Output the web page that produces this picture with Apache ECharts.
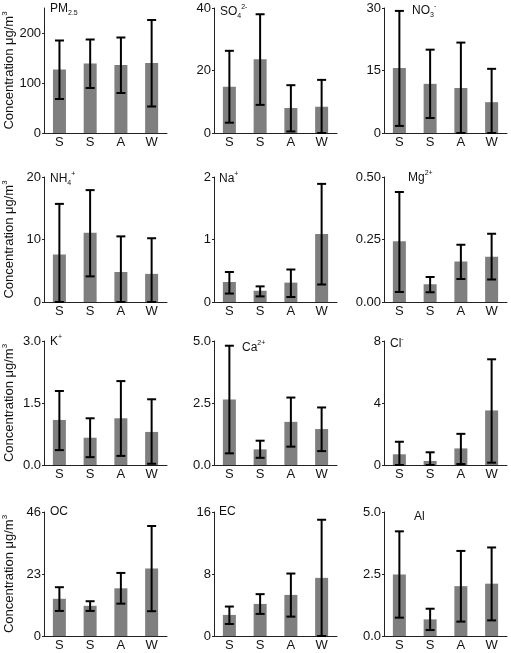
<!DOCTYPE html>
<html>
<head>
<meta charset="utf-8">
<script src="https://cdn.jsdelivr.net/npm/echarts@6/dist/echarts.min.js"></script>
<style>
  html, body { margin: 0; padding: 0; background: #fff; }
  #chart { width: 511px; height: 653px; }
</style>
</head>
<body>
<div id="chart"></div>
<script>
// seasons on x axis
const cats = ["S", "S", "A", "W"];

// means and error bar ends
const pm25 = [127, 139, 136, 140], pm25Lo = [68, 90, 80, 53], pm25Hi = [185, 187, 191, 226];
const so4 = [14.8, 23.6, 8.0, 8.4], so4Lo = [3.3, 9.0, 0.5, 0], so4Hi = [26.3, 38, 15.3, 17];
const no3 = [15.6, 11.8, 10.8, 7.4], no3Lo = [1.7, 3.6, 0, 0], no3Hi = [29.3, 20, 21.7, 15.4];
const nh4 = [7.6, 11.1, 4.8, 4.5], nh4Lo = [0, 4.1, 0, 0], nh4Hi = [15.7, 17.9, 10.5, 10.2];
const na = [0.32, 0.18, 0.31, 1.09], naLo = [0.135, 0.09, 0.08, 0.28], naHi = [0.48, 0.25, 0.52, 1.89];
const mg = [0.243, 0.071, 0.162, 0.181], mgLo = [0.04, 0.039, 0.092, 0.09], mgHi = [0.44, 0.10, 0.229, 0.273];
const k = [1.09, 0.66, 1.13, 0.80], kLo = [0.36, 0.19, 0.22, 0.03], kHi = [1.79, 1.13, 2.03, 1.59];
const ca = [2.64, 0.63, 1.74, 1.45], caLo = [0.47, 0.29, 0.74, 0.56], caHi = [4.81, 0.98, 2.72, 2.32];
const cl = [0.69, 0.26, 1.07, 3.52], clLo = [0, 0, 0.06, 0.15], clHi = [1.5, 0.82, 2.01, 6.82];
const oc = [13.8, 11.2, 17.7, 25.0], ocLo = [9.3, 9.3, 12.0, 9.2], ocHi = [18.1, 12.9, 23.4, 40.8];
const ec = [2.72, 4.14, 5.3, 7.5], ecLo = [1.55, 2.85, 2.5, 0], ecHi = [3.8, 5.4, 8.06, 15.0];
const al = [2.48, 0.67, 2.01, 2.11], alLo = [0.74, 0.24, 0.58, 0.63], alHi = [4.22, 1.1, 3.43, 3.57];

// y axis ranges
const yMax = [250, 40, 30, 20, 2, 0.5, 3.0, 5.0, 8, 46, 16, 5.0];
const yStep = [100, 20, 15, 10, 1, 0.25, 1.5, 2.5, 4, 23, 8, 2.5];
const yDec = [0, 0, 0, 0, 0, 2, 1, 1, 0, 0, 0, 1];

const panels = [
  { mean: pm25, lo: pm25Lo, hi: pm25Hi, name: "{a|PM}{sub|2.5}", tx: 50, ty: 1 },
  { mean: so4, lo: so4Lo, hi: so4Hi, name: "{a|SO}{sub|4}{sup|2-}", tx: 220, ty: 4 },
  { mean: no3, lo: no3Lo, hi: no3Hi, name: "{a|NO}{sub|3}{sup|-}", tx: 412, ty: 3 },
  { mean: nh4, lo: nh4Lo, hi: nh4Hi, name: "{a|NH}{sub|4}{sup|+}", tx: 50, ty: 171 },
  { mean: na, lo: naLo, hi: naHi, name: "{a|Na}{sup|+}", tx: 219, ty: 171 },
  { mean: mg, lo: mgLo, hi: mgHi, name: "{a|Mg}{sup|2+}", tx: 408, ty: 170 },
  { mean: k, lo: kLo, hi: kHi, name: "{a|K}{sup|+}", tx: 50, ty: 334 },
  { mean: ca, lo: caLo, hi: caHi, name: "{a|Ca}{sup|2+}", tx: 242, ty: 340 },
  { mean: cl, lo: clLo, hi: clHi, name: "{a|Cl}{sup|-}", tx: 390, ty: 336 },
  { mean: oc, lo: ocLo, hi: ocHi, name: "{a|OC}", tx: 50, ty: 504 },
  { mean: ec, lo: ecLo, hi: ecHi, name: "{a|EC}", tx: 219, ty: 504 },
  { mean: al, lo: alLo, hi: alHi, name: "{a|Al}", tx: 414, ty: 509 }
];

const colLeft = [44, 214, 384];
const rowTop = [8, 177, 341, 512];
const rowBottom = [133, 302, 465, 636];
const font = "Liberation Sans, Arial, sans-serif";

const richText = {
  a: { fontSize: 12, fontFamily: font, fontWeight: "normal", color: "#111", lineHeight: 16 },
  sub: { fontSize: 7, fontFamily: font, fontWeight: "normal", color: "#111", lineHeight: 8, verticalAlign: "bottom" },
  sup: { fontSize: 7, fontFamily: font, fontWeight: "normal", color: "#111", lineHeight: 8, verticalAlign: "top" }
};

let grid = [], xAxis = [], yAxis = [], series = [], title = [];

panels.forEach((p, i) => {
  let col = i % 3, row = Math.floor(i / 3);
  grid.push({
    left: colLeft[col],
    top: rowTop[row],
    width: 123,
    height: rowBottom[row] - rowTop[row]
  });
  xAxis.push({
    type: "category",
    gridIndex: i,
    data: cats,
    axisLine: { lineStyle: { color: "#222", width: 1 } },
    axisTick: { show: false },
    axisLabel: { color: "#111", fontSize: 13, fontFamily: font, margin: 3 }
  });
  yAxis.push({
    type: "value",
    gridIndex: i,
    min: 0,
    max: yMax[i],
    interval: yStep[i],
    splitLine: { show: false },
    axisLine: { show: true, lineStyle: { color: "#222", width: 1 } },
    axisTick: { show: true, length: 2, lineStyle: { color: "#222" } },
    axisLabel: {
      color: "#111",
      fontSize: 13,
      fontFamily: font,
      margin: 3,
      showMaxLabel: i !== 0,
      formatter: (v) => v.toFixed(yDec[i])
    },
    name: col === 0 ? "{a|Concentration μg/m}{sup|3}" : "",
    nameLocation: "middle",
    nameRotate: 90,
    nameGap: 27,
    nameTextStyle: {
      rich: {
        a: { fontSize: 13, fontFamily: font, color: "#111", lineHeight: 16 },
        sup: { fontSize: 8, fontFamily: font, color: "#111", lineHeight: 9, verticalAlign: "top" }
      }
    }
  });
  series.push({
    type: "bar",
    xAxisIndex: i,
    yAxisIndex: i,
    data: p.mean,
    barWidth: 13,
    itemStyle: { color: "#7f7f7f" },
    silent: true
  });
  series.push({
    type: "custom",
    xAxisIndex: i,
    yAxisIndex: i,
    data: p.lo.map((v, j) => [j, v, p.hi[j]]),
    silent: true,
    z: 5,
    renderItem: function (params, api) {
      let top = api.coord([api.value(0), api.value(2)]);
      let bot = api.coord([api.value(0), api.value(1)]);
      let hw = 4.5;
      let st = { stroke: "#000", lineWidth: 2 };
      return {
        type: "group",
        children: [
          { type: "line", shape: { x1: top[0], y1: top[1], x2: bot[0], y2: bot[1] }, style: st },
          { type: "line", shape: { x1: top[0] - hw, y1: top[1], x2: top[0] + hw, y2: top[1] }, style: st },
          { type: "line", shape: { x1: bot[0] - hw, y1: bot[1], x2: bot[0] + hw, y2: bot[1] }, style: st }
        ]
      };
    }
  });
  title.push({
    text: p.name,
    left: p.tx,
    top: p.ty,
    padding: 0,
    textStyle: { fontWeight: "normal", rich: richText }
  });
});

let chart = echarts.init(document.getElementById("chart"));
chart.setOption({
  animation: false,
  backgroundColor: "#fff",
  title: title,
  grid: grid,
  xAxis: xAxis,
  yAxis: yAxis,
  series: series
});
</script>
</body>
</html>
